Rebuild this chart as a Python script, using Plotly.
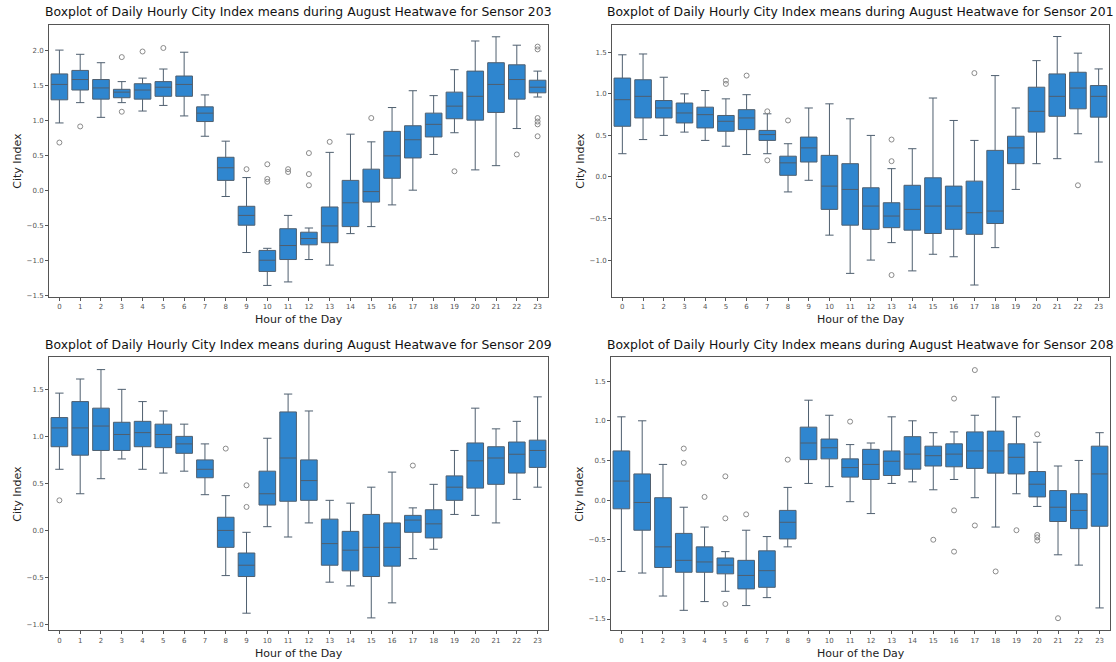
import plotly.graph_objects as go

hours = list(range(24))

# ---- Sensor 203 ----
s203_hi = [2.00, 1.94, 1.82, 1.55, 1.60, 1.73, 1.97, 1.36, 0.70, 0.18, -0.83, -0.36, -0.54, 0.54, 0.80, 0.69, 1.18, 1.42, 1.35, 1.72, 2.13, 2.19, 2.07, 1.70]
s203_q3 = [1.66, 1.71, 1.58, 1.44, 1.52, 1.55, 1.63, 1.19, 0.47, -0.23, -0.86, -0.55, -0.60, -0.24, 0.14, 0.30, 0.84, 0.92, 1.10, 1.40, 1.70, 1.82, 1.79, 1.57]
s203_med = [1.51, 1.58, 1.46, 1.40, 1.43, 1.47, 1.51, 1.10, 0.32, -0.36, -1.00, -0.79, -0.69, -0.51, -0.18, -0.02, 0.49, 0.72, 0.94, 1.20, 1.34, 1.51, 1.58, 1.47]
s203_q1 = [1.29, 1.43, 1.30, 1.32, 1.30, 1.34, 1.34, 0.98, 0.14, -0.50, -1.16, -0.99, -0.78, -0.75, -0.52, -0.17, 0.17, 0.46, 0.76, 1.02, 1.00, 1.11, 1.30, 1.39]
s203_lo = [0.96, 1.25, 1.04, 1.25, 1.13, 1.21, 1.06, 0.77, -0.09, -0.89, -1.36, -1.31, -0.99, -1.07, -0.62, -0.52, -0.21, 0.00, 0.51, 0.82, 0.29, 0.35, 0.88, 1.33]
s203_out_h = [0, 1, 3, 3, 4, 5, 9, 10, 10, 10, 11, 11, 12, 12, 12, 13, 15, 19, 22, 23, 23, 23, 23, 23, 23]
s203_out_v = [0.68, 0.91, 1.90, 1.12, 1.98, 2.03, 0.30, 0.37, 0.16, 0.12, 0.30, 0.26, 0.53, 0.23, 0.07, 0.69, 1.03, 0.27, 0.51, 2.05, 2.01, 1.03, 0.98, 0.94, 0.77]

# ---- Sensor 201 ----
s201_hi = [1.47, 1.48, 1.20, 1.00, 1.04, 0.94, 0.99, 0.76, 0.40, 0.83, 0.88, 0.70, 0.50, 0.10, 0.34, 0.95, 0.68, 0.44, 1.22, 0.83, 1.40, 1.69, 1.49, 1.30]
s201_q3 = [1.19, 1.17, 0.92, 0.89, 0.84, 0.74, 0.81, 0.56, 0.25, 0.48, 0.26, 0.16, -0.13, -0.31, -0.10, -0.01, -0.11, -0.05, 0.32, 0.49, 1.08, 1.24, 1.26, 1.10]
s201_med = [0.93, 0.97, 0.83, 0.77, 0.75, 0.67, 0.71, 0.51, 0.17, 0.35, -0.11, -0.15, -0.35, -0.47, -0.39, -0.35, -0.35, -0.43, -0.41, 0.35, 0.79, 0.97, 1.07, 0.97]
s201_q1 = [0.61, 0.71, 0.71, 0.65, 0.59, 0.55, 0.57, 0.44, 0.02, 0.18, -0.39, -0.58, -0.63, -0.61, -0.64, -0.68, -0.63, -0.69, -0.56, 0.16, 0.54, 0.73, 0.82, 0.72]
s201_lo = [0.28, 0.45, 0.50, 0.54, 0.44, 0.37, 0.27, 0.28, -0.18, -0.04, -0.70, -1.16, -1.00, -0.79, -1.13, -0.93, -0.96, -1.30, -0.85, -0.15, 0.16, 0.22, 0.52, 0.18]
s201_out_h = [5, 5, 6, 7, 7, 8, 13, 13, 13, 17, 22]
s201_out_v = [1.16, 1.12, 1.22, 0.79, 0.20, 0.68, 0.45, 0.19, -1.18, 1.25, -0.10]

# ---- Sensor 209 ----
s209_hi = [1.46, 1.61, 1.71, 1.50, 1.37, 1.27, 1.13, 0.92, 0.37, -0.02, 0.98, 1.45, 1.27, 0.32, 0.29, 0.46, 0.62, 0.24, 0.49, 0.85, 1.30, 1.08, 1.16, 1.42]
s209_q3 = [1.20, 1.37, 1.30, 1.15, 1.16, 1.13, 1.00, 0.75, 0.14, -0.24, 0.63, 1.26, 0.75, 0.12, -0.01, 0.17, 0.08, 0.16, 0.22, 0.58, 0.93, 0.89, 0.94, 0.96]
s209_med = [1.09, 1.09, 1.11, 1.02, 1.04, 1.02, 0.92, 0.65, 0.00, -0.37, 0.39, 0.77, 0.53, -0.14, -0.21, -0.18, -0.18, 0.11, 0.07, 0.46, 0.74, 0.77, 0.81, 0.85]
s209_q1 = [0.89, 0.80, 0.85, 0.85, 0.89, 0.88, 0.82, 0.56, -0.18, -0.49, 0.27, 0.31, 0.32, -0.37, -0.43, -0.49, -0.38, -0.02, -0.08, 0.32, 0.45, 0.49, 0.61, 0.67]
s209_lo = [0.65, 0.39, 0.55, 0.76, 0.65, 0.61, 0.63, 0.38, -0.48, -0.88, 0.04, -0.07, 0.08, -0.55, -0.59, -0.93, -0.77, -0.30, -0.20, 0.17, 0.16, 0.08, 0.33, 0.46]
s209_out_h = [0, 8, 9, 9, 17]
s209_out_v = [0.32, 0.87, 0.48, 0.25, 0.69]

# ---- Sensor 208 ----
s208_hi = [1.05, 1.00, 0.45, -0.09, -0.34, -0.65, -0.38, -0.46, 0.16, 1.26, 1.07, 0.70, 0.72, 1.05, 1.00, 0.85, 0.86, 1.07, 1.30, 1.05, 0.73, 0.43, 0.50, 0.85]
s208_q3 = [0.62, 0.33, 0.03, -0.42, -0.59, -0.73, -0.76, -0.64, -0.13, 0.92, 0.77, 0.52, 0.64, 0.62, 0.80, 0.68, 0.71, 0.86, 0.87, 0.71, 0.36, 0.12, 0.08, 0.68]
s208_med = [0.24, -0.03, -0.59, -0.76, -0.78, -0.82, -0.95, -0.89, -0.28, 0.72, 0.66, 0.41, 0.45, 0.49, 0.58, 0.56, 0.58, 0.62, 0.62, 0.54, 0.20, -0.09, -0.13, 0.33]
s208_q1 = [-0.11, -0.38, -0.85, -0.91, -0.91, -0.93, -1.12, -1.10, -0.49, 0.51, 0.52, 0.29, 0.26, 0.31, 0.39, 0.43, 0.42, 0.40, 0.34, 0.33, 0.04, -0.27, -0.36, -0.33]
s208_lo = [-0.90, -0.92, -1.21, -1.39, -1.28, -1.15, -1.33, -1.23, -0.59, 0.21, 0.17, -0.02, -0.17, 0.21, 0.23, 0.13, 0.26, 0.03, -0.34, 0.08, -0.08, -0.69, -0.82, -1.36]
s208_out_h = [3, 3, 4, 5, 5, 5, 6, 8, 11, 15, 16, 16, 16, 17, 17, 18, 19, 20, 20, 20, 20, 21]
s208_out_v = [0.65, 0.47, 0.04, 0.30, -0.23, -1.31, -0.18, 0.51, 0.99, -0.50, 1.28, -0.13, -0.65, 1.64, -0.32, -0.90, -0.38, 0.83, -0.44, -0.47, -0.51, -1.49]

panels = [
    ("203", s203_q1, s203_med, s203_q3, s203_lo, s203_hi, s203_out_h, s203_out_v, [-1.52, 2.36]),
    ("201", s201_q1, s201_med, s201_q3, s201_lo, s201_hi, s201_out_h, s201_out_v, [-1.44, 1.83]),
    ("209", s209_q1, s209_med, s209_q3, s209_lo, s209_hi, s209_out_h, s209_out_v, [-1.06, 1.84]),
    ("208", s208_q1, s208_med, s208_q3, s208_lo, s208_hi, s208_out_h, s208_out_v, [-1.64, 1.80]),
]

W, H = 1116, 662
# plot areas in pixels: (left, right, top, bottom)
areas = [(49, 548, 25, 298), (612, 1109, 25, 298), (49, 548, 359, 633), (611, 1110, 359, 633)]

FONT = "DejaVu Sans"
BOX_FILL = "#2f86cf"
BOX_LINE = "#4f5f6f"
SPINE = "#555555"
TICK_COL = "#555555"

fig = go.Figure()
layout = dict(
    width=W, height=H, margin=dict(l=0, r=0, t=0, b=0),
    paper_bgcolor="white", plot_bgcolor="white", showlegend=False,
    font=dict(family=FONT, color="#222222"),
)
annotations = []

for i, (sid, q1, med, q3, lo, hi, oh, ov, yr) in enumerate(panels):
    n = "" if i == 0 else str(i + 1)
    xa, ya = "x" + n, "y" + n
    l, r, t, b = areas[i]
    fig.add_trace(go.Box(
        x=hours, q1=q1, median=med, q3=q3, lowerfence=lo, upperfence=hi,
        xaxis=xa, yaxis=ya, width=0.8, whiskerwidth=0.5,
        fillcolor=BOX_FILL, line=dict(color=BOX_LINE, width=1),
        boxpoints=False, hoverinfo="skip",
    ))
    fig.add_trace(go.Scatter(
        x=oh, y=ov, xaxis=xa, yaxis=ya, mode="markers",
        marker=dict(symbol="circle-open", size=5, color="#8a8a8a", line=dict(width=1)),
        hoverinfo="skip",
    ))
    layout["xaxis" + n] = dict(
        domain=[l / W, r / W], anchor=ya, range=[-0.5, 23.5],
        tickmode="array", tickvals=hours, ticktext=[str(h) for h in hours],
        ticks="outside", ticklen=3, tickcolor=SPINE, tickfont=dict(size=7, color=TICK_COL),
        showline=True, linecolor=SPINE, linewidth=1, mirror=True,
        showgrid=False, zeroline=False,
    )
    layout["yaxis" + n] = dict(
        domain=[1 - b / H, 1 - t / H], anchor=xa, range=yr,
        dtick=0.5, tickformat=".1f",
        ticks="outside", ticklen=3, tickcolor=SPINE, tickfont=dict(size=7, color=TICK_COL),
        showline=True, linecolor=SPINE, linewidth=1, mirror=True,
        showgrid=False, zeroline=False,
    )
    cx = (l + r) / 2 / W
    annotations.append(dict(
        text=f"Boxplot of Daily Hourly City Index means during August Heatwave for Sensor {sid}",
        x=cx, y=1 - (t - 13) / H, xref="paper", yref="paper",
        xanchor="center", yanchor="middle", showarrow=False,
        font=dict(size=12.4, family=FONT, color="#111111"),
    ))
    annotations.append(dict(
        text="Hour of the Day", x=cx, y=1 - (b + 23) / H, xref="paper", yref="paper",
        xanchor="center", yanchor="middle", showarrow=False,
        font=dict(size=11, family=FONT, color="#222222"),
    ))
    annotations.append(dict(
        text="City Index", x=(l - 31) / W, y=1 - (t + b) / 2 / H, xref="paper", yref="paper",
        xanchor="center", yanchor="middle", showarrow=False, textangle=-90,
        font=dict(size=11, family=FONT, color="#222222"),
    ))

layout["annotations"] = annotations
fig.update_layout(**layout)
fig.write_html("out.html")
